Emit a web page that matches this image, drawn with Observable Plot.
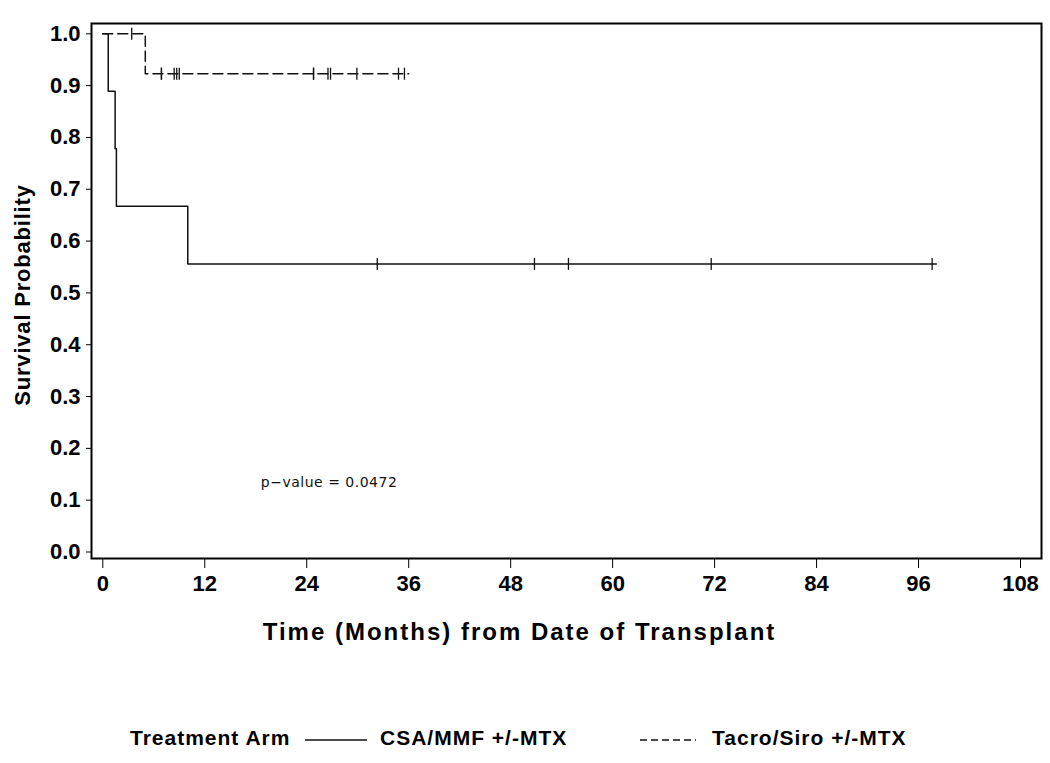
<!DOCTYPE html>
<html>
<head>
<meta charset="utf-8">
<script src="https://cdn.jsdelivr.net/npm/d3@7"></script>
<script src="https://cdn.jsdelivr.net/npm/@observablehq/plot@0.6"></script>
<style>
  body { margin: 0; background: #fff; font-family: "Liberation Sans", Arial, sans-serif; }
  #legend { position: relative; width: 1050px; height: 103px; font-weight: bold; font-size: 21px; letter-spacing: 1px; color: #000; }
  #legend .item { position: absolute; top: 66px; white-space: nowrap; }
  #legend svg { position: absolute; top: 78px; }
</style>
</head>
<body>
<div id="chart"></div>
<div id="legend"></div>
<script>
// ---- data ----
const seriesNames = ["CSA/MMF +/-MTX", "Tacro/Siro +/-MTX"];

// CSA/MMF +/-MTX : Kaplan–Meier step points (time in months, survival)
const csaTimes = [0, 0.64, 1.45, 1.6, 10.0, 98.1];
const csaSurv  = [1.0, 0.889, 0.778, 0.667, 0.556, 0.556];
const csaCensor = [32.3, 50.8, 54.8, 71.6, 97.6];

// Tacro/Siro +/-MTX
const tacroTimes = [0, 5.0, 36.0];
const tacroSurv  = [1.0, 0.923, 0.923];
const tacroCensor = [3.4, 6.9, 6.9, 8.4, 8.7, 9.0, 24.8, 24.8, 26.5, 26.8, 29.9, 34.8, 35.5];

const xTicks = [0, 12, 24, 36, 48, 60, 72, 84, 96, 108];
const yTicks = [0, 0.1, 0.2, 0.3, 0.4, 0.5, 0.6, 0.7, 0.8, 0.9, 1.0];
const pValueText = "p\u2212value = 0.0472";
const pValuePos = [18.6, 0.134];
const xLabel = "Time (Months) from Date of Transplant";
const yLabel = "Survival Probability";
const legendTitle = "Treatment Arm";

// ---- build tables ----
const toSteps = (times, surv, name) => times.map((t, i) => ({t, s: surv[i], name}));
const survAt = (times, surv, t) => { let s = surv[0]; times.forEach((tt, i) => { if (tt <= t) s = surv[i]; }); return s; };
const csaLine = toSteps(csaTimes, csaSurv, seriesNames[0]);
const tacroLine = toSteps(tacroTimes, tacroSurv, seriesNames[1]);
const censors = [
  ...csaCensor.map(t => ({t, s: survAt(csaTimes, csaSurv, t)})),
  ...tacroCensor.map(t => ({t, s: survAt(tacroTimes, tacroSurv, t)}))
];

const vbar = { draw(ctx, size) { const r = Math.sqrt(size / Math.PI); ctx.moveTo(0, -r); ctx.lineTo(0, r); } };

const chart = Plot.plot({
  width: 1050,
  height: 660,
  marginLeft: 91,
  marginRight: 9,
  marginTop: 23,
  marginBottom: 102,
  style: { fontFamily: "'Liberation Sans', Arial, sans-serif", fontWeight: "bold", fontSize: "22px", color: "#000", background: "#fff" },
  x: { domain: [-1.33, 110.47] },
  y: { domain: [-0.01254, 1.01988] },
  marks: [
    Plot.frame({ stroke: "#000", strokeWidth: 2 }),
    Plot.axisX({ ticks: xTicks, tickSize: 10, tickPadding: 7, label: null, fontWeight: "bold", fontSize: 22 }),
    Plot.axisY({ ticks: yTicks, tickFormat: d => d.toFixed(1), tickSize: 5, tickPadding: 6, label: null, fontWeight: "bold", fontSize: 22 }),
    Plot.text([xLabel], { frameAnchor: "bottom", text: d => d, dy: 81, dx: -47, fontSize: 24, fontWeight: "bold", fill: "#000" }),
    Plot.text([yLabel], { frameAnchor: "left", text: d => d, textAnchor: "middle", rotate: -90, dx: -69, dy: 4, fontSize: 22, fontWeight: "bold", fill: "#000" }),
    Plot.line(csaLine, { x: "t", y: "s", curve: "step-after", stroke: "#111", strokeWidth: 1.5 }),
    Plot.line(tacroLine, { x: "t", y: "s", curve: "step-after", stroke: "#111", strokeWidth: 1.5, strokeDasharray: "10,5" }),
    Plot.dot(censors, { x: "t", y: "s", symbol: vbar, r: 6, stroke: "#111", strokeWidth: 1.3, fill: "none" }),
    Plot.text([{x: pValuePos[0], y: pValuePos[1], text: pValueText}], { x: "x", y: "y", text: "text", textAnchor: "start", fontFamily: "'DejaVu Sans', sans-serif", fontWeight: "normal", fontSize: 14, fill: "#111" })
  ]
});
document.getElementById("chart").appendChild(chart);

// letter spacing on the labels (typographic styling only)
const svg = d3.select(chart);
svg.selectAll("text").filter(function() { return this.textContent === xLabel; }).style("letter-spacing", "2px");
svg.selectAll("text").filter(function() { return this.textContent === yLabel; }).style("letter-spacing", "0.8px");
svg.selectAll("text").filter(function() { return this.textContent === pValueText; }).style("letter-spacing", "0.5px");

// ---- legend ----
const lg = document.getElementById("legend");
lg.innerHTML = `
  <span class="item" style="left:130px">${legendTitle}</span>
  <svg style="left:305px" width="62" height="4"><line x1="0" y1="2" x2="62" y2="2" stroke="#111" stroke-width="1.4"/></svg>
  <span class="item" style="left:380px">${seriesNames[0]}</span>
  <svg style="left:640px" width="56" height="4"><line x1="0" y1="2" x2="56" y2="2" stroke="#111" stroke-width="1.4" stroke-dasharray="7,4"/></svg>
  <span class="item" style="left:712px">${seriesNames[1]}</span>`;
</script>
</body>
</html>
